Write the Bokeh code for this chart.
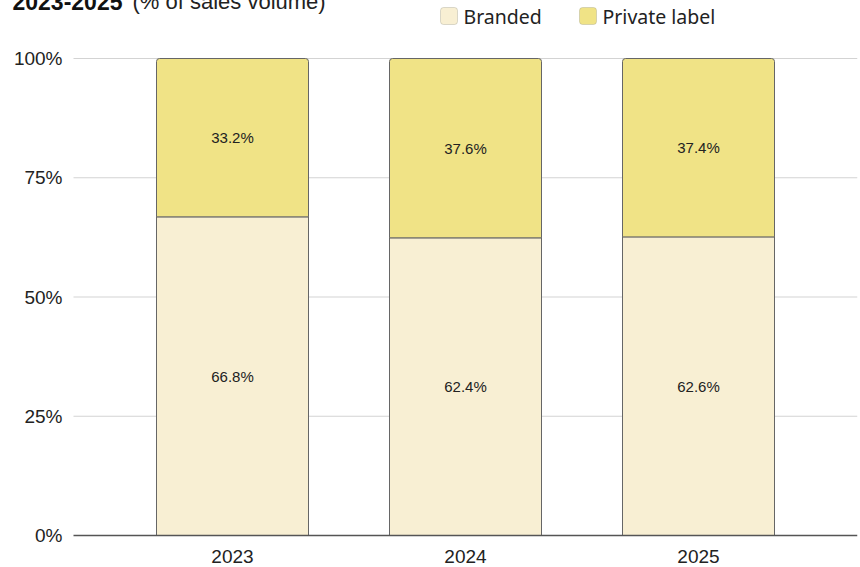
from bokeh.plotting import figure
from bokeh.models import (ColumnDataSource, Range1d, Label, BoxAnnotation)
from bokeh.core.properties import value
from bokeh.embed import file_html
from bokeh.resources import INLINE

years = ["2023", "2024", "2025"]
branded = [66.8, 62.4, 62.6]
private_label = [33.2, 37.6, 37.4]
y_ticks = [0, 0.25, 0.5, 0.75, 1.0]
series_names = ["Branded", "Private label"]
title_bold = "2023-2025"
title_rest = "(% of sales volume)"

colors = ["#F8EFD3", "#F0E386"]

xi = list(range(len(years)))
b = [v / 100 for v in branded]
pl = [v / 100 for v in private_label]
src = ColumnDataSource(dict(
    x=xi,
    b=b,
    pl=pl,
    top_total=[i + j for i, j in zip(b, pl)],
    b_mid=[i / 2 for i in b],
    pl_mid=[i + j / 2 for i, j in zip(b, pl)],
    b_lab=[f"{v:.1f}%" for v in branded],
    pl_lab=[f"{v:.1f}%" for v in private_label],
))

# layout constants (screen -> data mapping)
px_per_cat = 233.0
px_per_unit = 477.0
x_left = -232 / px_per_cat            # frame left edge at window x=0
x_right = 2 + (857 - 698) / px_per_cat
plot_left = (73 - 232) / px_per_cat   # where grid lines start
y_top = 547 / px_per_unit
y_bottom = -(567 - 535) / px_per_unit

p = figure(x_range=Range1d(x_left, x_right), y_range=Range1d(y_bottom, y_top),
           frame_width=857, frame_height=579,
           min_border_left=0, min_border_right=3, min_border_top=0, min_border_bottom=0,
           output_backend="svg", toolbar_location=None)
p.styles = {"margin-top": "-12px", "margin-bottom": "-4px"}
p.outline_line_color = None
p.background_fill_color = "white"
p.xgrid.grid_line_color = None
p.ygrid.grid_line_color = None
p.xaxis.visible = False
p.yaxis.visible = False

# grid lines
grid_y = y_ticks[1:]
p.segment(x0=[plot_left] * len(grid_y), x1=[x_right] * len(grid_y), y0=grid_y, y1=grid_y,
          line_color="#d3d3d3", line_width=1)

bar_w = 152 / px_per_cat
p.vbar(x="x", bottom=0, top="b", width=bar_w, source=src,
       fill_color=colors[0], line_color="#666666", line_width=1)
p.vbar(x="x", bottom="b", top="top_total", width=bar_w, source=src,
       fill_color=colors[1], line_color="#666666", line_width=1,
       border_radius=(3, 3, 0, 0))

# baseline (x axis line)
p.segment(x0=[plot_left], x1=[x_right], y0=[0], y1=[0], line_color="#555555", line_width=1.5)

p.text(x="x", y="b_mid", text="b_lab", source=src, text_align="center",
       text_baseline="middle", text_font=value("Liberation Sans"),
       text_font_size="15px", text_color="#222222")
p.text(x="x", y="pl_mid", text="pl_lab", source=src, text_align="center",
       text_baseline="middle", text_font=value("Liberation Sans"),
       text_font_size="15px", text_color="#222222")

# y tick labels
p.text(x=[(62 - 232) / px_per_cat] * len(y_ticks), y=y_ticks,
       text=[f"{int(round(t * 100))}%" for t in y_ticks],
       text_align="right", text_baseline="middle", text_font=value("Liberation Sans"),
       text_font_size="19px", text_color="#222222")

# x tick labels
p.text(x=xi, y=[-(555.5 - 535) / px_per_unit] * len(xi), text=years,
       text_align="center", text_baseline="middle", text_font=value("Liberation Sans"),
       text_font_size="19px", text_color="#222222")

# manual legend (screen units relative to the frame)
frame_bottom = 535 + (567 - 535)  # window y of frame bottom
for name, col, sx, tx in zip(series_names, colors, [440, 579], [463, 602]):
    p.add_layout(BoxAnnotation(left=sx, right=sx + 17,
                               bottom=frame_bottom - 24, top=frame_bottom - 7,
                               left_units="screen", right_units="screen",
                               bottom_units="screen", top_units="screen",
                               fill_color=col, fill_alpha=1,
                               line_color="#8a8a7a", line_width=1,
                               border_radius=3))
    p.add_layout(Label(x=tx, y=frame_bottom - 15.5, x_units="screen", y_units="screen",
                       text=name, text_font="Noto Sans", text_font_size="19.5px",
                       text_color="#222222", text_baseline="middle"))

t1 = Label(x=12, y=frame_bottom - 1, x_units="screen", y_units="screen", text=title_bold,
           text_font="Liberation Sans", text_font_style="bold", text_font_size="23px",
           text_color="#111111", text_baseline="middle")
t2 = Label(x=132, y=frame_bottom - 1, x_units="screen", y_units="screen", text=title_rest,
           text_font="Liberation Sans", text_font_size="22px",
           text_color="#222222", text_baseline="middle")
p.add_layout(t1)
p.add_layout(t2)

open("out.html", "w").write(file_html(p, INLINE))
